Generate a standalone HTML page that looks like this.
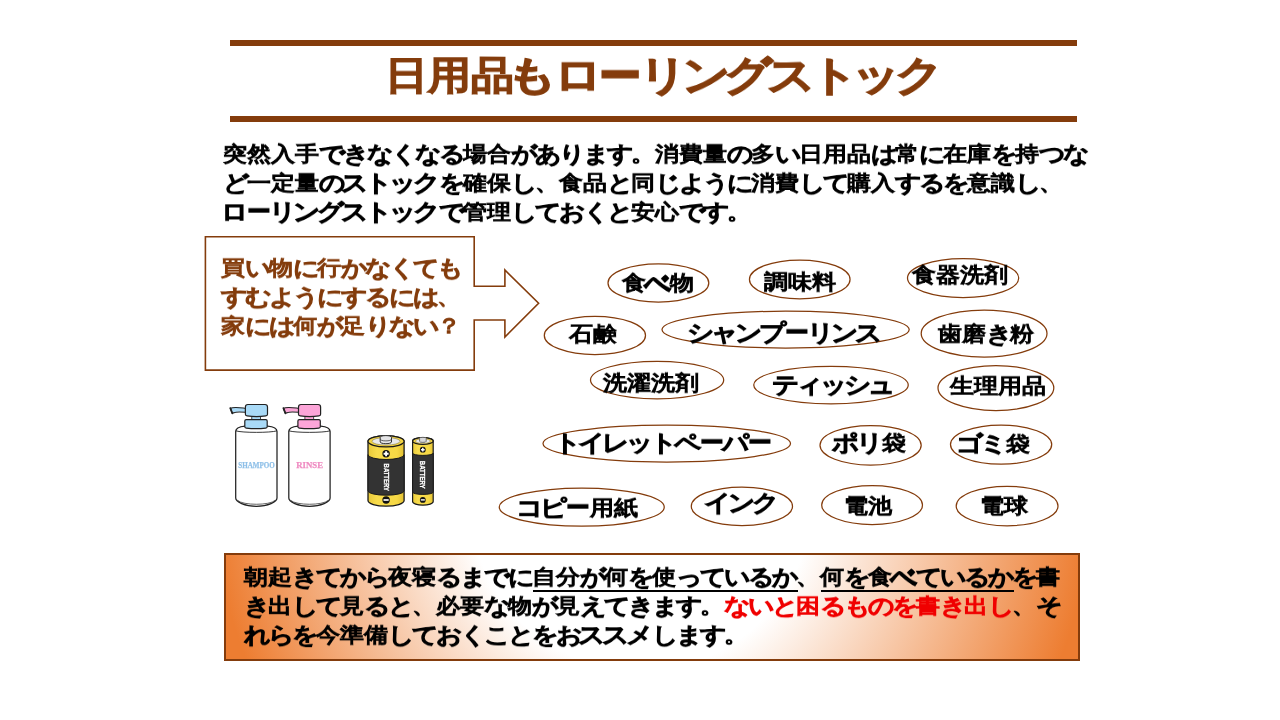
<!DOCTYPE html>
<html lang="ja">
<head>
<meta charset="utf-8">
<title>日用品もローリングストック</title>
<style>
html,body{margin:0;padding:0;}
body{width:1280px;height:720px;position:relative;overflow:hidden;background:#fff;
  font-family:"Liberation Sans",sans-serif;font-weight:normal;color:#000;}
.abs{position:absolute;}
.bar{position:absolute;left:230px;width:847px;height:6.5px;background:#843C0C;}
.t{position:absolute;will-change:transform;white-space:nowrap;font-size:24px;line-height:30px;height:30px;
  transform-origin:0 50%;transform:scaleY(0.87);-webkit-text-stroke:1.4px currentColor;}
.title{position:absolute;will-change:transform;white-space:nowrap;font-size:42.67px;line-height:52px;height:52px;color:#843C0C;
  transform-origin:0 50%;transform:scaleY(0.9);-webkit-text-stroke:2.6px #843C0C;}
.br{color:#843C0C;}
.red{color:#F00000;}
.t{-webkit-text-stroke-width:1.35px;}
i{font-style:normal;display:inline-block;width:1em;text-indent:-0.5px;}
.t .h{text-indent:1.5px;transform:scale(1.1,1.1);-webkit-text-stroke-width:1.55px;}
.t .b{text-indent:-1px;transform:scale(1.1,1.4);}
.t .k{transform:scale(1.13,1.14);-webkit-text-stroke-width:1.6px;}
.t .d{transform:scale(1,1.3);-webkit-text-stroke-width:1.5px;}
.title .h{text-indent:-3.2px;transform:scale(1.14,1.02);-webkit-text-stroke-width:2.8px;}
.title .k{transform:scale(1.12,1.08);-webkit-text-stroke-width:2.6px;}
.title .d{transform:scale(1,1.3);-webkit-text-stroke-width:2.6px;}
.ul{position:absolute;top:589.5px;height:2.2px;background:#000;}
#gbox{position:absolute;left:223.8px;top:552.8px;width:852.5px;height:104.6px;border:2px solid #843C0C;
  background:radial-gradient(circle 425px at 414px -55px,#fff 0,#fff 40%,#ED7D31 100%) 0 0/427px 100% no-repeat,radial-gradient(circle 450px at -13px -55px,#fff 0,#fff 38%,#ED7D31 100%) 427px 0/426px 100% no-repeat;}
</style>
</head>
<body>
<div class="bar" style="top:39.5px"></div>
<div class="bar" style="top:115.5px"></div>
<svg class="abs" style="left:0;top:0" width="1280" height="720" viewBox="0 0 1280 720">
  <g fill="#fff" stroke="#843C0C" stroke-width="1.25">
    <path d="M205.4 236.8H474.2V286.3H504.9V270L538.6 303.2L504.9 337V320H474.2V370.1H205.4Z" stroke-width="1.6" stroke-linejoin="miter"/>
    <ellipse cx="658.4" cy="282.9" rx="50.4" ry="19.1"/>
    <ellipse cx="799.75" cy="279.4" rx="50.3" ry="19.4"/>
    <ellipse cx="963.1" cy="278.1" rx="55.6" ry="19.4"/>
    <ellipse cx="594.9" cy="335.4" rx="50.6" ry="19.1"/>
    <ellipse cx="785.6" cy="329.6" rx="123.6" ry="18.4"/>
    <ellipse cx="984.1" cy="333.5" rx="62.9" ry="23.5"/>
    <ellipse cx="657.1" cy="380" rx="66.6" ry="18.75"/>
    <ellipse cx="831" cy="385" rx="77.25" ry="18.75"/>
    <ellipse cx="995.9" cy="388" rx="57.9" ry="22.5"/>
    <ellipse cx="666.75" cy="443.5" rx="123.75" ry="18.5"/>
    <ellipse cx="870.6" cy="445.25" rx="50.6" ry="19.75"/>
    <ellipse cx="1001.1" cy="444.6" rx="50.6" ry="19.6"/>
    <ellipse cx="581.75" cy="507.1" rx="82.5" ry="19.1"/>
    <ellipse cx="741.9" cy="506.25" rx="50.6" ry="19.25"/>
    <ellipse cx="872.1" cy="505" rx="50.4" ry="19.5"/>
    <ellipse cx="1007.1" cy="506" rx="50.9" ry="19.75"/>
  </g>
</svg>
<div id="gbox"></div>
<svg class="abs" style="left:0;top:0;will-change:transform" width="1280" height="720" viewBox="0 0 1280 720">
  <defs>
    <g id="bottle">
      <path d="M235.7 431.5C235.7 428 240 426.6 245 426.2H267.5C272.500 426.6 277 428 277 431.5V498C277 502 268 506.3 256.35 506.3C244.700 506.3 235.700 502 235.700 498Z" fill="#fff" stroke="#222" stroke-width="1.25"/>
      <path d="M235.7 430.8C242 432.9 270.700 432.9 277 430.8" fill="none" stroke="#222" stroke-width="0.9"/>
      <path d="M237.5 500.3C243 505.6 269.700 505.6 275.2 500.3" fill="none" stroke="#222" stroke-width="0.7"/>
      <rect class="c" x="251.8" y="415.5" width="8.8" height="4.5" stroke="#222" stroke-width="0.8"/>
      <path class="c" d="M230.4 408.2C234 406.6 240 407.600 245.5 408.2V412.2C240 411.8 236 411.600 234.400 412.600L232.2 413.2Z" stroke="#222" stroke-width="1.1" stroke-linejoin="round"/>
      <path d="M230.3 408.1L232.3 413.3" stroke="#222" stroke-width="1.8" stroke-linecap="round"/>
      <path class="c" d="M247.9 404.5H265C266.800 404.5 267.5 405.600 267.5 407V414.3C267.5 415.3 266.800 415.8 265.800 415.9C260 416.700 253 416.700 247.100 415.9C246.100 415.8 245.400 415.3 245.400 414.3V407C245.400 405.600 246.100 404.5 247.900 404.5Z" stroke="#222" stroke-width="1.2"/>
      <path class="c" d="M246.2 419.6H265.8C266.700 419.600 267.2 420.100 267.2 421V426.8C267.2 427.600 266.700 428 265.800 428.100C259 428.800 253 428.800 246.200 428.100C245.300 428 244.800 427.600 244.800 426.800V421C244.800 420.100 245.300 419.600 246.200 419.600Z" stroke="#222" stroke-width="1.2"/>
    </g>
    <linearGradient id="gy" x1="0" x2="1" y1="0" y2="0">
      <stop offset="0" stop-color="#E8C93A"/><stop offset="0.25" stop-color="#F8DC4C"/><stop offset="0.8" stop-color="#F6D845"/><stop offset="1" stop-color="#E2C033"/>
    </linearGradient>
  </defs>
  <use href="#bottle" style="fill:#A9DAF7"/>
  <use href="#bottle" x="53.1" style="fill:#FCA5D8"/>
  <text x="256.5" y="468.3" text-anchor="middle" textLength="36.5" lengthAdjust="spacingAndGlyphs" font-family="Liberation Serif, serif" font-weight="bold" font-size="9" fill="#8FC0E8" stroke="#8FC0E8" stroke-width="0.25">SHAMPOO</text>
  <text x="309.6" y="468.3" text-anchor="middle" textLength="26.8" lengthAdjust="spacingAndGlyphs" font-family="Liberation Serif, serif" font-weight="bold" font-size="9" fill="#EF8CC2" stroke="#EF8CC2" stroke-width="0.25">RINSE</text>

  <!-- big battery -->
  <g stroke="#1a1a1a" stroke-width="1.3" stroke-linejoin="round">
    <path d="M368 441.3A18.05 5.6 0 0 1 404.100 441.3V500.6A18.05 5.6 0 0 1 368 500.6Z" fill="url(#gy)"/>
    <path d="M368 454.7A18.05 4.8 0 0 0 404.100 454.7V491A18.05 4.2 0 0 1 368 491Z" fill="#333" stroke-width="1"/>
    <ellipse cx="386.05" cy="441.3" rx="18.05" ry="5.6" fill="#F3D544"/>
    <ellipse cx="386.05" cy="441.3" rx="14" ry="3.8" fill="#E9E9EA" stroke="#8a7a3a" stroke-width="0.6"/>
    <path d="M380.2 437.3A5.65 1.7 0 0 1 391.500 437.3V442A5.65 1.7 0 0 1 380.200 442Z" fill="#E4E4E6" stroke="#333" stroke-width="1"/>
    <path d="M380.2 439.2A5.65 1.7 0 0 0 391.500 439.2" fill="none" stroke="#444" stroke-width="0.8"/>
    <circle cx="386.1" cy="453.8" r="3.7" fill="#111" stroke="none"/>
    <circle cx="386.1" cy="500" r="3.7" fill="#111" stroke="none"/>
  </g>
  <path d="M383.6 453.8H388.6M386.1 451.3V456.3" stroke="#fff" stroke-width="1.9"/>
  <path d="M383.5 500H388.7" stroke="#fff" stroke-width="1.7"/>
  <text transform="translate(384.2 463.6) rotate(90)" textLength="27.4" lengthAdjust="spacingAndGlyphs" font-family="Liberation Sans, sans-serif" font-weight="bold" font-size="7.6" fill="#fff" stroke="#fff" stroke-width="0.3">BATTERY</text>

  <!-- small battery -->
  <g stroke="#1a1a1a" stroke-width="1.2" stroke-linejoin="round">
    <path d="M412.6 441A10.3 3.4 0 0 1 433.200 441V501.600A10.3 3.6 0 0 1 412.600 501.600Z" fill="url(#gy)"/>
    <path d="M412.6 453.2A10.3 2.2 0 0 0 433.200 453.2V492.2A10.3 2.2 0 0 1 412.600 492.2Z" fill="#333" stroke-width="1"/>
    <ellipse cx="422.9" cy="441" rx="10.3" ry="3.4" fill="#F3D544"/>
    <ellipse cx="422.9" cy="441.1" rx="7.4" ry="2.3" fill="#E9E9EA" stroke="#8a7a3a" stroke-width="0.5"/>
    <path d="M419.6 438.4A3.3 1.1 0 0 1 426.200 438.4V441.3A3.3 1.1 0 0 1 419.600 441.3Z" fill="#D8D8DA" stroke="#555" stroke-width="0.8"/>
    <circle cx="422.8" cy="449.7" r="2.9" fill="#111" stroke="none"/>
    <circle cx="422.8" cy="499.9" r="2.9" fill="#111" stroke="none"/>
  </g>
  <path d="M420.9 449.7H424.7M422.8 447.8V451.600" stroke="#fff" stroke-width="1.5"/>
  <path d="M420.8 499.9H424.8" stroke="#fff" stroke-width="1.4"/>
  <text transform="translate(420.3 460.8) rotate(90)" textLength="27.8" lengthAdjust="spacingAndGlyphs" font-family="Liberation Sans, sans-serif" font-weight="bold" font-size="7.6" fill="#fff" stroke="#fff" stroke-width="0.3">BATTERY</text>
</svg>
<div id="title" class="title" style="left:384.80px;top:49.25px;letter-spacing:0.000px">日用品<i class="h">も</i><i class="k">ロ</i><i class="d">ー</i><i class="k">リ</i><i class="k">ン</i><i class="k">グ</i><i class="k">ス</i><i class="k">ト</i><i class="k">ッ</i><i class="k">ク</i></div>
<div id="p1" class="t" style="left:223.00px;top:139.25px;letter-spacing:0.000px">突然入手<i class="h">で</i><i class="h">き</i><i class="h">な</i><i class="h">く</i><i class="h">な</i><i class="h">る</i>場合<i class="h">が</i><i class="h">あ</i><i class="h">り</i><i class="h">ま</i><i class="h">す</i>。消費量<i class="h">の</i>多<i class="h">い</i>日用品<i class="h">は</i>常<i class="h">に</i>在庫<i class="h">を</i>持<i class="h">つ</i><i class="h">な</i></div>
<div id="p2" class="t" style="left:223.00px;top:168.05px;letter-spacing:0.000px"><i class="h">ど</i>一定量<i class="h">の</i><i class="k">ス</i><i class="k">ト</i><i class="k">ッ</i><i class="k">ク</i><i class="h">を</i>確保<i class="h">し</i>、食品<i class="h">と</i>同<i class="h">じ</i><i class="h">よ</i><i class="h">う</i><i class="h">に</i>消費<i class="h">し</i><i class="h">て</i>購入<i class="h">す</i><i class="h">る</i><i class="h">を</i>意識<i class="h">し</i>、</div>
<div id="p3" class="t" style="left:223.00px;top:196.85px;letter-spacing:0.000px"><i class="k">ロ</i><i class="d">ー</i><i class="k">リ</i><i class="k">ン</i><i class="k">グ</i><i class="k">ス</i><i class="k">ト</i><i class="k">ッ</i><i class="k">ク</i><i class="h">で</i>管理<i class="h">し</i><i class="h">て</i><i class="h">お</i><i class="h">く</i><i class="h">と</i>安心<i class="h">で</i><i class="h">す</i>。</div>
<div id="c1" class="t br" style="left:220.95px;top:253.00px;letter-spacing:0.000px">買<i class="h">い</i>物<i class="h">に</i>行<i class="h">か</i><i class="h">な</i><i class="h">く</i><i class="h">て</i><i class="h">も</i></div>
<div id="c2" class="t br" style="left:220.95px;top:281.80px;letter-spacing:0.000px"><i class="h">す</i><i class="h">む</i><i class="h">よ</i><i class="h">う</i><i class="h">に</i><i class="h">す</i><i class="h">る</i><i class="h">に</i><i class="h">は</i>、</div>
<div id="c3" class="t br" style="left:220.95px;top:310.60px;letter-spacing:0.000px">家<i class="h">に</i><i class="h">は</i>何<i class="h">が</i>足<i class="h">り</i><i class="h">な</i><i class="h">い</i>？</div>
<div id="g1" class="t" style="left:244.25px;top:562.25px;letter-spacing:0.000px">朝起<i class="h">き</i><i class="h">て</i><i class="h">か</i><i class="h">ら</i>夜寝<i class="h">る</i><i class="h">ま</i><i class="h">で</i><i class="h">に</i>自分<i class="h">が</i>何<i class="h">を</i>使<i class="h">っ</i><i class="h">て</i><i class="h">い</i><i class="h">る</i><i class="h">か</i>、何<i class="h">を</i>食<i class="h b">べ</i><i class="h">て</i><i class="h">い</i><i class="h">る</i><i class="h">か</i><i class="h">を</i>書</div>
<div id="g2" class="t" style="left:244.25px;top:591.05px;letter-spacing:0.000px"><i class="h">き</i>出<i class="h">し</i><i class="h">て</i>見<i class="h">る</i><i class="h">と</i>、必要<i class="h">な</i>物<i class="h">が</i>見<i class="h">え</i><i class="h">て</i><i class="h">き</i><i class="h">ま</i><i class="h">す</i>。<span class="red"><i class="h">な</i><i class="h">い</i><i class="h">と</i>困<i class="h">る</i><i class="h">も</i><i class="h">の</i><i class="h">を</i>書<i class="h">き</i>出<i class="h">し</i></span>、<i class="h">そ</i></div>
<div id="g3" class="t" style="left:244.25px;top:619.85px;letter-spacing:0.000px"><i class="h">れ</i><i class="h">ら</i><i class="h">を</i>今準備<i class="h">し</i><i class="h">て</i><i class="h">お</i><i class="h">く</i><i class="h">こ</i><i class="h">と</i><i class="h">を</i><i class="h">お</i><i class="k">ス</i><i class="k">ス</i><i class="k">メ</i><i class="h">し</i><i class="h">ま</i><i class="h">す</i>。</div>
<div id="l1" class="t" style="left:621.50px;top:268.00px;letter-spacing:0.000px">食<i class="h b">べ</i>物</div>
<div id="l2" class="t" style="left:764.25px;top:267.00px;letter-spacing:0.000px">調味料</div>
<div id="l3" class="t" style="left:911.62px;top:259.75px;letter-spacing:0.000px">食器洗剤</div>
<div id="l4" class="t" style="left:568.88px;top:319.25px;letter-spacing:0.000px">石鹸</div>
<div id="l5" class="t" style="left:688.62px;top:318.25px;letter-spacing:0.000px"><i class="k">シ</i><i class="k">ャ</i><i class="k">ン</i><i class="k">プ</i><i class="d">ー</i><i class="k">リ</i><i class="k">ン</i><i class="k">ス</i></div>
<div id="l6" class="t" style="left:938.00px;top:319.25px;letter-spacing:0.000px">歯磨<i class="h">き</i>粉</div>
<div id="l7" class="t" style="left:603.12px;top:367.75px;letter-spacing:0.000px">洗濯洗剤</div>
<div id="l8" class="t" style="left:774.12px;top:369.75px;letter-spacing:0.000px"><i class="k">テ</i><i class="k">ィ</i><i class="k">ッ</i><i class="k">シ</i><i class="k">ュ</i></div>
<div id="l9" class="t" style="left:950.00px;top:371.25px;letter-spacing:0.000px">生理用品</div>
<div id="l10" class="t" style="left:555.88px;top:427.75px;letter-spacing:0.000px"><i class="k">ト</i><i class="k">イ</i><i class="k">レ</i><i class="k">ッ</i><i class="k">ト</i><i class="k">ペ</i><i class="d">ー</i><i class="k">パ</i><i class="d">ー</i></div>
<div id="l11" class="t" style="left:833.62px;top:428.25px;letter-spacing:0.000px"><i class="k">ポ</i><i class="k">リ</i>袋</div>
<div id="l12" class="t" style="left:957.50px;top:429.25px;letter-spacing:0.000px"><i class="k">ゴ</i><i class="k">ミ</i>袋</div>
<div id="l13" class="t" style="left:518.38px;top:493.25px;letter-spacing:0.000px"><i class="k">コ</i><i class="k">ピ</i><i class="d">ー</i>用紙</div>
<div id="l14" class="t" style="left:705.75px;top:488.25px;letter-spacing:0.000px"><i class="k">イ</i><i class="k">ン</i><i class="k">ク</i></div>
<div id="l15" class="t" style="left:844.38px;top:490.50px;letter-spacing:0.000px">電池</div>
<div id="l16" class="t" style="left:979.88px;top:490.50px;letter-spacing:0.000px">電球</div>
<div class="ul" style="left:533px;width:264.5px"></div>
<div class="ul" style="left:821.2px;width:192.5px"></div>
</body>
</html>
